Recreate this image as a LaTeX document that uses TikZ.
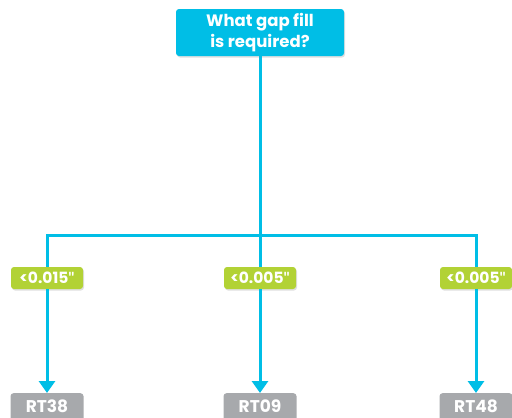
\documentclass[tikz,border=0pt]{standalone}
\usepackage{fontspec}
\setmainfont{Poppins}
\newfontfamily\quotefont{Lato}
\usepackage{tikz}
\usetikzlibrary{arrows.meta, positioning, shadows}

\definecolor{qcyan}{RGB}{0,190,230}
\definecolor{tgreen}{RGB}{178,210,53}
\definecolor{rgray}{RGB}{167,169,172}
\newcommand{\inch}{{\quotefont\bfseries\char34}}

\begin{document}
\begin{tikzpicture}[
  x=1pt, y=-1pt,
  qbox/.style={rounded corners=3pt, fill=qcyan, text=white, font=\bfseries\fontsize{16.5}{20.5}\selectfont,
    minimum width=168pt, minimum height=47pt, align=center, inner sep=0pt,
    drop shadow={opacity=0.25, shadow xshift=1pt, shadow yshift=-1.5pt}},
  tbox/.style={rounded corners=3pt, fill=tgreen, text=white, font=\bfseries\fontsize{15.5}{17}\selectfont,
    minimum width=72pt, minimum height=22pt, inner sep=0pt,
    drop shadow={opacity=0.25, shadow xshift=1pt, shadow yshift=-1.5pt}},
  rbox/.style={rounded corners=3pt, fill=rgray, text=white, font=\bfseries\fontsize{17}{19}\selectfont,
    minimum width=73pt, inner sep=0pt, text height=19pt, text depth=15pt},
  wire/.style={qcyan, line width=3pt},
  arr/.style={wire, -{Triangle[length=12pt, width=16pt]}}]
  \useasboundingbox (0,0) rectangle (512,418);
  \node[qbox] (q) at (260,32.5) {What gap fill\\is required?};
  \node[tbox] (t1) at (47,278) {<0.015\inch};
  \node[tbox] (t2) at (260,278) {<0.005\inch};
  \node[tbox] (t3) at (476,278) {<0.005\inch};
  \node[rbox, anchor=north] (r1) at (47,393) {RT38};
  \node[rbox, anchor=north] (r2) at (260,393) {RT09};
  \node[rbox, anchor=north] (r3) at (476,393) {RT48};
  \coordinate (bm) at (260,235);
  % connectors
  \draw[wire] (q) -- (t2);
  \draw[wire] (t1.north) |- (bm) -| (t3.north);
  \draw[arr] (t1) -- (r1);
  \draw[arr] (t2) -- (r2);
  \draw[arr] (t3) -- (r3);
\end{tikzpicture}
\end{document}
